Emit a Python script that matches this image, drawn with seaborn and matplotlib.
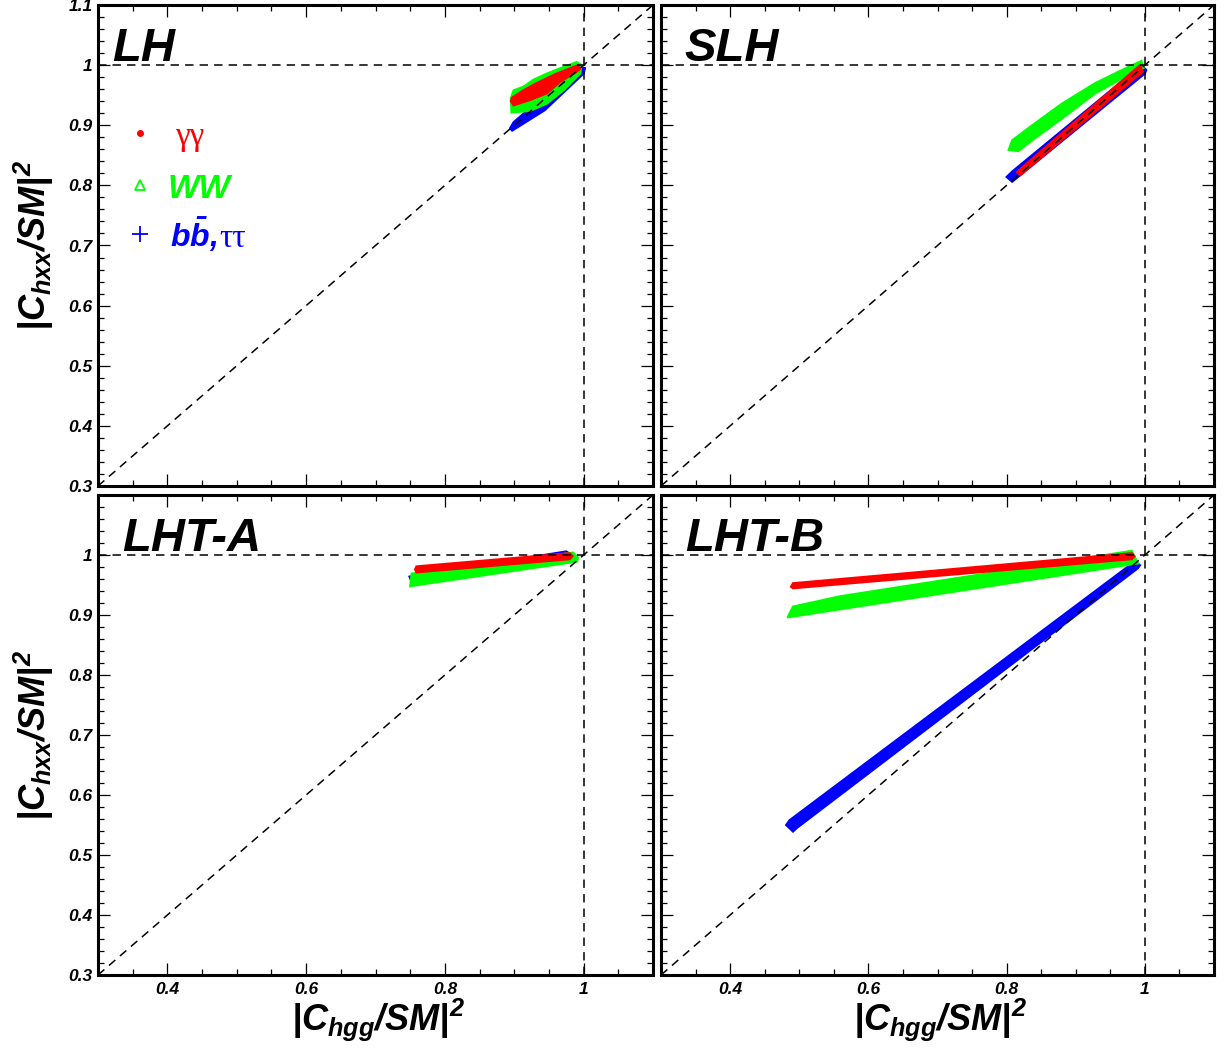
import seaborn as sns
import matplotlib.pyplot as plt
import numpy as np
from matplotlib.ticker import MultipleLocator, FuncFormatter

# band outlines (x = |C_hgg/SM|^2, y = |C_hxx/SM|^2)
# LH
lh_bb_x = [0.894, 0.899, 0.908, 0.950, 0.995, 1.002, 1.000, 0.944, 0.897]
lh_bb_y = [0.895, 0.905, 0.914, 0.955, 0.997, 0.995, 0.986, 0.925, 0.891]
lh_ww_x = [0.895, 0.899, 0.913, 0.928, 0.947, 0.971, 0.990, 0.997, 0.995, 0.971, 0.947, 0.923, 0.896]
lh_ww_y = [0.945, 0.958, 0.964, 0.976, 0.986, 0.997, 1.005, 1.000, 0.986, 0.958, 0.936, 0.924, 0.921]
lh_gg_x = [0.895, 0.897, 0.913, 0.932, 0.961, 0.992, 0.995, 0.990, 0.966, 0.947, 0.923, 0.899]
lh_gg_y = [0.940, 0.946, 0.958, 0.970, 0.986, 1.000, 0.994, 0.989, 0.972, 0.953, 0.942, 0.933]

# SLH
slh_bb_x = [0.800, 0.808, 0.995, 1.002, 1.000, 0.808]
slh_bb_y = [0.814, 0.823, 1.000, 0.992, 0.986, 0.806]
slh_ww_x = [0.803, 0.808, 0.837, 0.880, 0.928, 0.976, 0.995, 0.998, 0.976, 0.928, 0.880, 0.837, 0.817]
slh_ww_y = [0.859, 0.875, 0.900, 0.936, 0.970, 0.997, 1.007, 0.995, 0.983, 0.953, 0.911, 0.875, 0.857]
slh_gg_x = [0.815, 0.993, 0.997, 0.820]
slh_gg_y = [0.8225, 1.000, 0.989, 0.817]

# LHT-A
lhta_bb_x = [0.749, 0.975, 0.990, 0.751]
lhta_bb_y = [0.964, 1.006, 0.995, 0.958]
lhta_ww_x = [0.752, 0.985, 0.992, 0.990, 0.750]
lhta_ww_y = [0.969, 1.004, 0.995, 0.989, 0.948]
lhta_gg_x = [0.757, 0.759, 0.980, 0.984, 0.980, 0.759]
lhta_gg_y = [0.976, 0.981, 1.003, 0.998, 0.993, 0.971]

# LHT-B
lhtb_bb_x = [0.481, 0.486, 0.985, 0.993, 0.990, 0.496, 0.491]
lhtb_bb_y = [0.550, 0.558, 0.989, 0.983, 0.978, 0.5445, 0.539]
lhtb_ww_x = [0.483, 0.491, 0.558, 0.981, 0.990]
lhtb_ww_y = [0.896, 0.914, 0.931, 1.007, 0.986]
lhtb_gg_x = [0.488, 0.491, 0.981, 0.985, 0.981, 0.491]
lhtb_gg_y = [0.947, 0.953, 1.003, 0.998, 0.993, 0.9445]

panel_names = ["LH", "SLH", "LHT-A", "LHT-B"]
red, green, blue = "#ff0000", "#00ff00", "#0000ff"

sns.set_style("ticks")
plt.rcParams['font.family'] = ['Liberation Sans', 'DejaVu Sans']
plt.rcParams['text.color'] = 'black'
plt.rcParams['xtick.color'] = 'black'
plt.rcParams['ytick.color'] = 'black'
plt.rcParams['axes.edgecolor'] = 'black'
plt.rcParams['mathtext.fontset'] = 'custom'
plt.rcParams['mathtext.it'] = 'Liberation Sans:italic:bold'
plt.rcParams['mathtext.rm'] = 'Liberation Sans:italic:bold'
plt.rcParams['mathtext.bf'] = 'Liberation Sans:italic:bold'

W, H = 1224, 1055
fig = plt.figure(figsize=(W / 100, H / 100), dpi=100)

boxes = [(98, 5, 555, 481), (661, 5, 553, 481), (98, 495, 555, 480), (661, 495, 553, 480)]
bands = [
    (lh_bb_x, lh_bb_y, lh_ww_x, lh_ww_y, lh_gg_x, lh_gg_y),
    (slh_bb_x, slh_bb_y, slh_ww_x, slh_ww_y, slh_gg_x, slh_gg_y),
    (lhta_bb_x, lhta_bb_y, lhta_ww_x, lhta_ww_y, lhta_gg_x, lhta_gg_y),
    (lhtb_bb_x, lhtb_bb_y, lhtb_ww_x, lhtb_ww_y, lhtb_gg_x, lhtb_gg_y),
]

tickfont = dict(family='Liberation Sans', weight='bold', style='italic', size=12.5)


def fmt(v, pos):
    return f"{v:g}"


def fmt_nolast(v, pos):
    if v > 1.05:
        return ""
    return f"{v:g}"


axes = []
for i, (px, py, pw, ph) in enumerate(boxes):
    ax = fig.add_axes([px / W, 1 - (py + ph) / H, pw / W, ph / H])
    axes.append(ax)
    bx, by, wx, wy, gx, gy = bands[i]
    ax.fill(bx, by, color=blue, ec=blue, lw=1.5, zorder=2)
    ax.fill(wx, wy, color=green, ec=green, lw=1.5, zorder=3)
    ax.fill(gx, gy, color=red, ec=red, lw=1.5, zorder=4)

    ax.axline((1, 1), slope=1, color='black', lw=1.1, ls=(0, (5.5, 4)), zorder=5)
    ax.axhline(1, color='black', lw=1.1, ls=(0, (5.5, 4)), zorder=5)
    ax.axvline(1, color='black', lw=1.1, ls=(0, (5.5, 4)), zorder=5)

    ax.set_xlim(0.3, 1.1)
    ax.set_ylim(0.3, 1.1)
    ax.xaxis.set_major_locator(MultipleLocator(0.2))
    ax.xaxis.set_minor_locator(MultipleLocator(0.05))
    ax.yaxis.set_major_locator(MultipleLocator(0.1))
    ax.yaxis.set_minor_locator(MultipleLocator(0.02))
    ax.tick_params(which='both', direction='in', top=True, right=True, width=0.9, color='black')
    ax.tick_params(which='major', length=8.5)
    ax.tick_params(which='minor', length=4.3)
    ax.tick_params(axis='x', pad=5)
    ax.tick_params(axis='y', pad=4)
    for s in ax.spines.values():
        s.set_linewidth(2.2)
        s.set_color('black')

    if i < 2:
        ax.set_xticklabels([])
    else:
        ax.xaxis.set_major_formatter(FuncFormatter(fmt))
    if i % 2 == 1:
        ax.set_yticklabels([])
    else:
        ax.yaxis.set_major_formatter(FuncFormatter(fmt if i == 0 else fmt_nolast))
    for lab in ax.get_xticklabels() + ax.get_yticklabels():
        lab.set_fontproperties(tickfont)
        lab.set_color('black')

    ax.text(0.025 if i == 0 else 0.043, 0.884, panel_names[i], transform=ax.transAxes,
            fontsize=34, fontweight='bold', fontstyle='italic', family='Liberation Sans',
            ha='left', va='baseline', zorder=6, color='black')

# legend drawn by hand in the LH panel
ax = axes[0]
ax.plot([0.0757], [0.734], marker='o', ms=4, color=red, transform=ax.transAxes, ls='none')
ax.plot([0.0757], [0.626], marker='^', ms=7, mfc='none', mec=green, mew=1.3,
        transform=ax.transAxes, ls='none')
ax.plot([0.0757], [0.524], marker='+', ms=11, color=blue, mew=1.3, transform=ax.transAxes, ls='none')
ax.text(0.139, 0.709, "γγ", color=red, family='Liberation Serif', fontsize=24,
        transform=ax.transAxes, va='baseline')
ax.text(0.126, 0.599, "WW", color=green, family='Liberation Sans', fontweight='bold',
        fontstyle='italic', fontsize=24, transform=ax.transAxes, va='baseline')
ax.text(0.130, 0.497, r"$b\bar{b}$,", color=blue, fontsize=23, fontweight='bold',
        fontstyle='italic', transform=ax.transAxes, va='baseline')
ax.text(0.218, 0.497, "ττ", color=blue, family='Liberation Serif', fontsize=24,
        transform=ax.transAxes, va='baseline')

ylab = r"$|C_{hxx}/SM|^{2}$"
xlab = r"$|C_{hgg}/SM|^{2}$"
fig.text(34 / W, 1 - 245 / H, ylab, rotation=90, ha='center', va='center', fontsize=26)
fig.text(34 / W, 1 - 735 / H, ylab, rotation=90, ha='center', va='center', fontsize=26)
fig.text(378 / W, 1 - 1020 / H, xlab, ha='center', va='center', fontsize=26)
fig.text(940 / W, 1 - 1020 / H, xlab, ha='center', va='center', fontsize=26)

fig.savefig("out.png", dpi=100, facecolor='white')
